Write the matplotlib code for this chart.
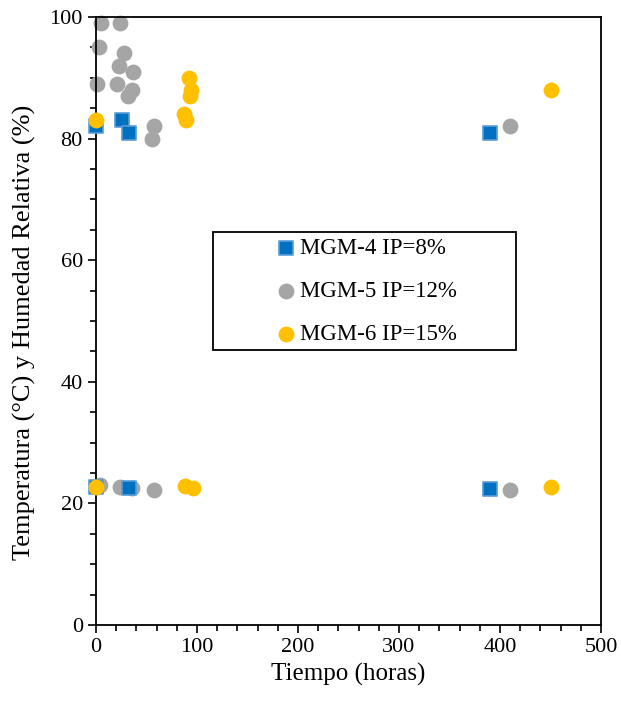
import matplotlib.pyplot as plt
from matplotlib.patches import Rectangle
from matplotlib.ticker import MultipleLocator

# MGM-4 IP=8%
t4 = [0, 26, 33, 390, 0, 33, 390]
v4 = [82, 83, 81, 81, 22.7, 22.5, 22.3]

# MGM-5 IP=12%
t5 = [5, 24, 3, 28, 23, 37, 1, 21, 36, 32, 57, 55, 410,
      4, 24, 36, 57, 410]
v5 = [99, 99, 95, 94, 92, 91, 89, 89, 88, 87, 82, 80, 82,
      23, 22.7, 22.5, 22.2, 22.2]

# MGM-6 IP=15%
t6 = [0, 92, 94, 93, 87, 89, 450, 0, 88, 96, 450]
v6 = [83, 90, 88, 87, 84, 83, 88, 22.7, 22.8, 22.5, 22.7]

plt.rcParams['font.family'] = ['Liberation Serif', 'DejaVu Serif']

fig = plt.figure(figsize=(6.21, 7.03), dpi=100)
ax = fig.add_axes([0.1546, 0.111, 0.8132, 0.8648])

ax.scatter(t4, v4, marker='s', s=95, color='#0070C0', edgecolors='#5B9BD5',
           linewidths=1.2, label='MGM-4 IP=8%', zorder=3, clip_on=False)
ax.scatter(t5, v5, marker='o', s=130, color='#A5A5A5', linewidths=0,
           label='MGM-5 IP=12%', zorder=2, clip_on=False)
ax.scatter(t6, v6, marker='o', s=130, color='#FFC000', linewidths=0,
           label='MGM-6 IP=15%', zorder=4, clip_on=False)

ax.set_xlim(0, 500)
ax.set_ylim(0, 100)
ax.xaxis.set_major_locator(MultipleLocator(100))
ax.xaxis.set_minor_locator(MultipleLocator(20))
ax.yaxis.set_major_locator(MultipleLocator(20))
ax.yaxis.set_minor_locator(MultipleLocator(5))
ax.tick_params(which='both', direction='out', width=1.2, labelsize=16)
ax.tick_params(which='major', length=6)
ax.tick_params(which='minor', length=4)
for s in ax.spines.values():
    s.set_linewidth(1.3)

ax.set_xlabel('Tiempo (horas)', fontsize=18)
ax.set_ylabel('Temperatura (°C) y Humedad Relativa (%)', fontsize=19, labelpad=7)
ax.yaxis.set_label_coords(-0.118, 0.482)

# legend frame
ax.add_patch(Rectangle((0.2317, 0.452), 0.6, 0.194, transform=ax.transAxes,
                       fill=True, facecolor='white', edgecolor='black',
                       linewidth=1.3, zorder=5))
leg = ax.legend(loc='center', bbox_to_anchor=(0.5317, 0.549), fontsize=16.5,
                frameon=False, labelspacing=0.95, handletextpad=0.0,
                handlelength=1.2, borderpad=0)
leg.set_zorder(6)

fig.savefig('out.png', dpi=100)
